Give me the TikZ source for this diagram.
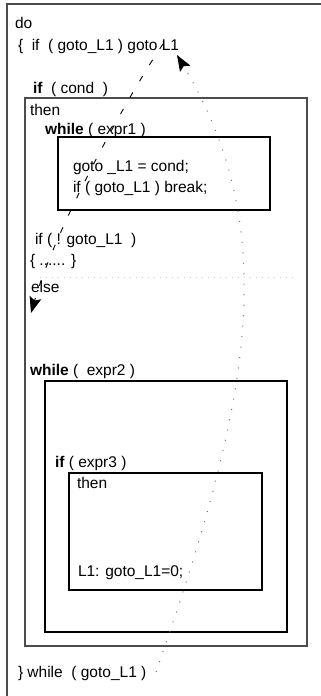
\documentclass[tikz,border=0pt]{standalone}
\usepackage{fontspec}
\setmainfont{Liberation Sans}
\usetikzlibrary{arrows.meta,positioning}
\definecolor{myframe}{rgb}{0.3,0.3,0.3}
\definecolor{mydots}{rgb}{0.45,0.45,0.45}
\definecolor{myfaint}{rgb}{0.8,0.8,0.8}

\begin{document}
\begin{tikzpicture}[x=1pt,y=-1pt,
        every node/.style={inner sep=0pt,outer sep=0pt,font=\fontsize{15.5}{18}\selectfont},
        code/.style={anchor=base west},
        blockbox/.style={draw,line width=1.1pt,anchor=north west},
        tipshape/.style={-{Stealth[length=16pt,width=12pt,inset=3pt,fill=black,color=black]}},
        jump/.style={line width=0.9pt,dash pattern=on 6pt off 13pt,tipshape},
        loopback/.style={mydots,line width=1pt,dash pattern=on 1pt off 9.5pt,tipshape},
        faintline/.style={myfaint,line width=0.8pt,dash pattern=on 1pt off 5pt}
        ]
        \useasboundingbox (0,0) rectangle (321,696);
        \clip (0,0) rectangle (321,696);

        % the outer frame
        \draw[myframe,line width=1.8pt] (7,4) rectangle (340,720);

        % the blocks
        \node[blockbox,draw=myframe,minimum width=282pt,minimum height=548pt] (ifblock) at (25,98) {};
        \node[blockbox,minimum width=212pt,minimum height=73pt] (whileone) at (58,137) {};
        \node[blockbox,minimum width=242pt,minimum height=251pt] (whiletwo) at (45,381) {};
        \node[blockbox,minimum width=193pt,minimum height=117pt] (thenblock) at (69,473) {};

        % the text lines
        \node[code] (doline) at (15,28.5) {do};
        \node[code] (firstif) at (18,50.5) {\{~~if~~( goto\_L1 ) goto L1};
        \node[code] (condline) at (33,93) {\textbf{if}~~( cond~~)};
        \node[code] (thenone) at (30,115) {then};
        \node[code] (exprone) at (45,134) {\textbf{while} ( expr1 )};
        \node[code] (assign) at (73,171) {goto \_L1 = cond;};
        \node[code] (breakline) at (73,192) {if ( goto\_L1 ) break;};
        \node[code] (notgoto) at (35,244) {if ( ! goto\_L1~~)};
        \node[code] (dotsline) at (30,265) {\{ ...... \}};
        \node[code] (elseline) at (31,292) {else};
        \node[code] (exprtwo) at (30,375) {\textbf{while} (~~expr2 )};
        \node[code] (exprthree) at (55,467) {\textbf{if} ( expr3 )};
        \node[code] (thentwo) at (77,488) {then};
        \node[code] (label) at (78,576) {L1: goto\_L1=0;};
        \node[code] (lastline) at (18,677) {\} while~~( goto\_L1 )};

        % the jump ends
        \coordinate (jumpfrom) at (163,44);
        \coordinate (jumpto) at (31,313);
        \coordinate (backfrom) at (156,672);
        \coordinate (backto) at (177,55);
        \coordinate (sepleft) at (40,277);
        \coordinate (sepright) at (298,277);

        % the jumps
        \draw[faintline] (sepleft) -- (sepright);
        \draw[jump] (jumpfrom) .. controls (125,100) and (55,230) .. (jumpto);
        \draw[loopback] (backfrom) .. controls (249,405) and (284,234) .. (backto);
\end{tikzpicture}
\end{document}
